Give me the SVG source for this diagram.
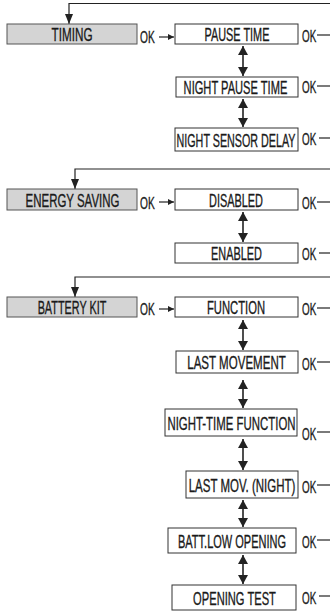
<svg xmlns="http://www.w3.org/2000/svg" width="330" height="614" viewBox="0 0 330 614">
<defs>
<style>
.box{fill:#fff;stroke:#333;stroke-width:1}
.sel{fill:#d4d4d4;stroke:#555;stroke-width:1}
.t{font-family:"Liberation Sans",Arial,sans-serif;font-size:18px;fill:#1a1a1a;stroke:#1a1a1a;stroke-width:0.35;text-anchor:middle}
.ok{font-family:"Liberation Sans",Arial,sans-serif;font-size:17px;fill:#1a1a1a;stroke:#1a1a1a;stroke-width:0.35}
.ln{fill:none;stroke:#222;stroke-width:1.2}
.dbl{fill:none;stroke:#222;stroke-width:1.6;marker-start:url(#ah);marker-end:url(#ah)}
.fb{fill:none;stroke:#222;stroke-width:1.2;marker-end:url(#ahd)}
.sm{fill:none;stroke:#222;stroke-width:1.2;marker-end:url(#ahs)}
</style>
<marker id="ah" viewBox="0 0 9 10" refX="9" refY="5" markerWidth="9" markerHeight="10" markerUnits="userSpaceOnUse" orient="auto-start-reverse"><path d="M0,0 L9,5 L0,10 z" fill="#222"/></marker>
<marker id="ahd" viewBox="0 0 10 8" refX="10" refY="4" markerWidth="10" markerHeight="8" markerUnits="userSpaceOnUse" orient="auto"><path d="M0,0 L10,4 L0,8 z" fill="#222"/></marker>
<marker id="ahs" viewBox="0 0 6 6" refX="6" refY="3" markerWidth="6" markerHeight="6" markerUnits="userSpaceOnUse" orient="auto"><path d="M0,0 L6,3 L0,6 z" fill="#222"/></marker>
</defs>

<g id="connectors">
<path class="fb" d="M330,3.5 H69 V24"/>
<path class="fb" d="M330,169 H75 V189"/>
<path class="fb" d="M330,277 H75 V297"/>
<line class="sm" x1="159" y1="37" x2="174" y2="37"/>
<line class="sm" x1="159" y1="202" x2="174" y2="202"/>
<line class="sm" x1="159" y1="309" x2="174" y2="309"/>
<line class="dbl" x1="243" y1="46" x2="243" y2="76"/>
<line class="dbl" x1="243" y1="99" x2="243" y2="127"/>
<line class="dbl" x1="243" y1="212" x2="243" y2="242"/>
<line class="dbl" x1="243" y1="320" x2="243" y2="350"/>
<line class="dbl" x1="243" y1="380" x2="243" y2="408"/>
<line class="dbl" x1="243" y1="439" x2="243" y2="470"/>
<line class="dbl" x1="243" y1="500" x2="243" y2="527"/>
<line class="dbl" x1="243" y1="555" x2="243" y2="584"/>
<g class="ln">
<line x1="317" y1="35" x2="330" y2="35"/>
<line x1="317" y1="86" x2="330" y2="86"/>
<line x1="319" y1="138" x2="330" y2="138"/>
<line x1="317" y1="202" x2="330" y2="202"/>
<line x1="319" y1="253" x2="330" y2="253"/>
<line x1="317" y1="308" x2="330" y2="308"/>
<line x1="317" y1="362" x2="330" y2="362"/>
<line x1="317" y1="432" x2="330" y2="432"/>
<line x1="317" y1="485" x2="330" y2="485"/>
<line x1="317" y1="540" x2="330" y2="540"/>
<line x1="319" y1="596" x2="330" y2="596"/>
</g>
<g class="ok">
<text transform="translate(140,43) scale(0.6,1)">OK</text>
<text transform="translate(140,208.5) scale(0.6,1)">OK</text>
<text transform="translate(140,315) scale(0.6,1)">OK</text>
<text transform="translate(302,42) scale(0.58,1)">OK</text>
<text transform="translate(302,93) scale(0.58,1)">OK</text>
<text transform="translate(302,145) scale(0.58,1)">OK</text>
<text transform="translate(302,209) scale(0.58,1)">OK</text>
<text transform="translate(302,260) scale(0.58,1)">OK</text>
<text transform="translate(302,315) scale(0.58,1)">OK</text>
<text transform="translate(302,370) scale(0.58,1)">OK</text>
<text transform="translate(302,440) scale(0.58,1)">OK</text>
<text transform="translate(302,493) scale(0.58,1)">OK</text>
<text transform="translate(302,548) scale(0.58,1)">OK</text>
<text transform="translate(302,604) scale(0.58,1)">OK</text>
</g>
</g>

<g id="timing"><rect class="sel" x="7" y="24" width="130" height="20"/><text class="t" transform="translate(72,41) scale(0.651,1)">TIMING</text></g>
<g id="pause-time"><rect class="box" x="175" y="24" width="123" height="20"/><text class="t" transform="translate(237,41) scale(0.605,1)">PAUSE TIME</text></g>
<g id="night-pause-time"><rect class="box" x="176" y="77" width="122" height="20"/><text class="t" transform="translate(235.5,94) scale(0.618,1)">NIGHT PAUSE TIME</text></g>
<g id="night-sensor-delay"><rect class="box" x="175" y="128" width="123" height="23"/><text class="t" transform="translate(236,146.5) scale(0.597,1)">NIGHT SENSOR DELAY</text></g>

<g id="energy-saving"><rect class="sel" x="7" y="189" width="130" height="21"/><text class="t" transform="translate(72.5,206.5) scale(0.637,1)">ENERGY SAVING</text></g>
<g id="disabled"><rect class="box" x="175" y="189" width="123" height="21"/><text class="t" transform="translate(236,206.5) scale(0.606,1)">DISABLED</text></g>
<g id="enabled"><rect class="box" x="175" y="243" width="123" height="20"/><text class="t" transform="translate(236.5,260) scale(0.607,1)">ENABLED</text></g>

<g id="battery-kit"><rect class="sel" x="7" y="297" width="130" height="20"/><text class="t" transform="translate(72,314) scale(0.603,1)">BATTERY KIT</text></g>
<g id="function"><rect class="box" x="175" y="297" width="123" height="20"/><text class="t" transform="translate(236,314) scale(0.624,1)">FUNCTION</text></g>
<g id="last-movement"><rect class="box" x="176" y="351" width="122" height="22"/><text class="t" transform="translate(236.5,369) scale(0.642,1)">LAST MOVEMENT</text></g>
<g id="night-time-function"><rect class="box" x="165" y="409" width="132" height="27"/><text class="t" transform="translate(231.5,429.5) scale(0.635,1)">NIGHT-TIME FUNCTION</text></g>
<g id="last-mov-night"><rect class="box" x="186" y="471" width="112" height="27"/><text class="t" transform="translate(242,491.5) scale(0.639,1)">LAST MOV. (NIGHT)</text></g>
<g id="batt-low-opening"><rect class="box" x="168" y="528" width="128" height="25"/><text class="t" transform="translate(232,547.5) scale(0.612,1)">BATT.LOW OPENING</text></g>
<g id="opening-test"><rect class="box" x="172" y="585" width="124" height="25"/><text class="t" transform="translate(234.5,604.5) scale(0.62,1)">OPENING TEST</text></g>
</svg>
